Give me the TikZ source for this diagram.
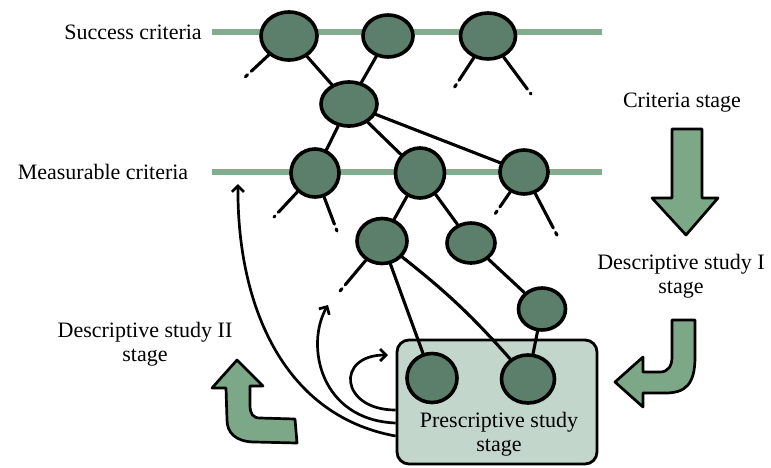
\documentclass[tikz,border=0pt]{standalone}
\usepackage{fontspec}
\setmainfont{Liberation Serif}
\usepackage{xcolor}
\definecolor{verdeNodo}{RGB}{91,127,107}
\definecolor{verdeLinea}{RGB}{132,173,144}
\definecolor{verdeFlecha}{RGB}{125,168,135}
\definecolor{verdeCaja}{RGB}{195,214,203}
\usetikzlibrary{shapes.geometric, arrows.meta, calc}

\begin{document}
\begin{tikzpicture}[
  x=1pt, y=-1pt,
  crit/.style={ellipse, draw=black, line width=3.6pt, fill=verdeNodo, inner sep=0pt},
  lvl/.style={line width=6pt, color=verdeLinea},
  link/.style={line width=3.1pt, line cap=round},
  stub/.style={link, dash pattern=on #1 off 5pt on 3pt off 60pt},
  fb/.style={line width=2.7pt, -{Straight Barb[length=6pt,width=12pt,line width=2.7pt]}},
  stagebox/.style={rectangle, rounded corners=12pt, draw=black, line width=2.8pt,
                   fill=verdeCaja, minimum width=200pt, minimum height=124pt},
  bigarr/.style={draw=black, line width=2.7pt, line join=round, fill=verdeFlecha},
  lbl/.style={align=center, font=\fontsize{22}{23.5}\selectfont, inner sep=0pt}
]
  \useasboundingbox (0,0) rectangle (771,467);

  % niveles
  \node[lbl] (lsucc) at (133,32) {Success criteria};
  \node[lbl] (lmeas) at (103,172) {Measurable criteria};
  \draw[lvl] (212,32) -- (602,32);
  \draw[lvl] (212,172) -- (602,172);

  % caja prescriptiva
  \node[stagebox] (psbox) at (497,402) {};
  \node[lbl] (pstext) at (499,434) {Prescriptive study\\stage};

  % criterios
  \node[crit, minimum width=56pt, minimum height=48pt] (s1) at (289,36) {};
  \node[crit, minimum width=50pt, minimum height=42pt] (s2) at (388,36) {};
  \node[crit, minimum width=55pt, minimum height=46pt] (s3) at (488,36) {};
  \node[crit, minimum width=56pt, minimum height=44pt] (h) at (349,104) {};
  \node[crit, minimum width=48pt, minimum height=48pt] (m1) at (315,173) {};
  \node[crit, minimum width=49pt, minimum height=50pt] (m2) at (420,173) {};
  \node[crit, minimum width=48pt, minimum height=44pt] (m3) at (524,172) {};
  \node[crit, minimum width=50pt, minimum height=45pt] (d1) at (382,241) {};
  \node[crit, minimum width=48pt, minimum height=40pt] (d2) at (471,243) {};
  \node[crit, minimum width=47pt, minimum height=42pt] (d3) at (542,309) {};
  \node[crit, minimum width=50pt, minimum height=49pt] (p1) at (432,378) {};
  \node[crit, minimum width=53pt, minimum height=48pt] (p2) at (528,379) {};

  \draw[link] (s1) -- (h);
  \draw[link] (s2) -- (h);
  \draw[link] (h) -- (m1);
  \draw[link] (h) -- (m2);
  \draw[link] (h) -- (m3);
  \draw[link] (m2) -- (d1);
  \draw[link] (m2) -- (d2);
  \draw[link] (d2) -- (d3);
  \draw[link] (d1) -- (p1);
  \draw[link] (d1) to[bend left=5] (p2);
  \draw[link] (d3) -- (p2);

  % ramas sueltas
  \coordinate (e1) at (243,79);
  \coordinate (e2) at (454,88);
  \coordinate (e3) at (531,94);
  \coordinate (e4) at (274,217);
  \coordinate (e5) at (337,231);
  \coordinate (e6) at (495,214);
  \coordinate (e7) at (558,237);
  \coordinate (e8) at (335,297);
  \draw[stub=24pt] (s1) -- (e1);
  \draw[stub=27pt] (s3) -- (e2);
  \draw[stub=40pt] (s3) -- (e3);
  \draw[stub=28pt] (m1) -- (e4);
  \draw[stub=29pt] (m1) -- (e5);
  \draw[stub=18pt] (m3) -- (e6);
  \draw[stub=39pt] (m3) -- (e7);
  \draw[stub=32pt] (d1) -- (e8);

  % retroalimentacion
  \coordinate (t1) at (238,184);
  \coordinate (t2) at (328,305);
  \coordinate (t3) at (388,355);
  \draw[fb] ([yshift=-34pt]psbox.west) .. controls (280,415) and (237,300) .. (t1);
  \draw[fb] ([yshift=-21pt]psbox.west) .. controls (320,420) and (305,345) .. (t2);
  \draw[fb] ([yshift=-8pt]psbox.west) .. controls (340,410) and (335,355) .. (t3);

  % etapas
  \node[lbl] (lcrit) at (682,103) {Criteria stage};
  \node[lbl] (ldesc1) at (681,276) {Descriptive study I\\stage};
  \node[lbl] (ldesc2) at (145,344) {Descriptive study II\\stage};

  \draw[bigarr] (672,129) -- (702,129) -- (702,198) -- (718,198) -- (686,235)
    -- (652,198) -- (672,198) -- cycle;
  \draw[bigarr] (672,320) -- (695,320) -- (695,357) .. controls (695,385) and (685,393) .. (665,393)
    -- (643,393) -- (643,407) -- (615,382) -- (643,357) -- (643,372) -- (660,372)
    .. controls (668,372) and (672,366) .. (672,357) -- cycle;
  \draw[bigarr] (237,360) -- (263,386) -- (250,386) -- (250,405) .. controls (250,414) and (253,418) .. (260,418)
    -- (295,419) -- (297,443) -- (255,442) .. controls (235,442) and (227,432) .. (227,420)
    -- (226,388) -- (212,388) -- cycle;
\end{tikzpicture}
\end{document}
